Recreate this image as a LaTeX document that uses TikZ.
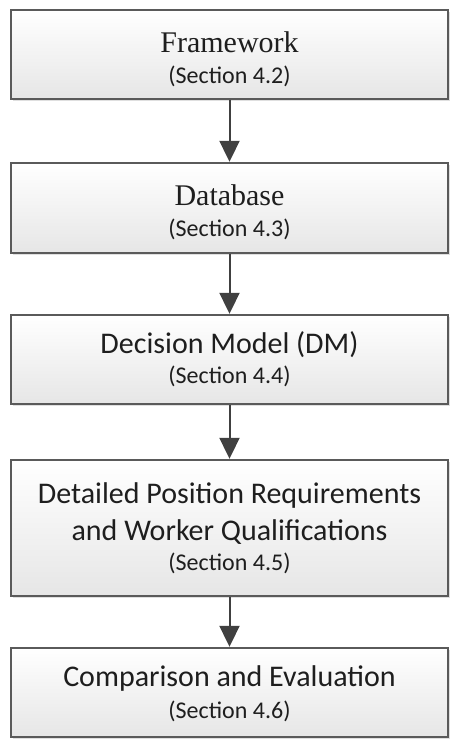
\documentclass[tikz,border=0pt]{standalone}
\usepackage{fontspec}
\setmainfont{Carlito}
\newfontfamily\serifbox{Liberation Serif}
\usetikzlibrary{arrows.meta,shadows}
\definecolor{boxline}{HTML}{5A5A5A}
\definecolor{boxbot}{HTML}{E6E6E6}
\definecolor{arrowcol}{HTML}{404040}
\definecolor{txt}{HTML}{1E1E1E}
\tikzset{
  flowbox/.style={rectangle, draw=boxline, line width=1.4pt, top color=white, bottom color=boxbot,
    minimum width=437pt, inner sep=0pt,
    drop shadow={shadow xshift=2pt, shadow yshift=-2pt, opacity=0.25, fill=gray}},
  maintxt/.style={anchor=base, text=txt, font=\fontsize{30}{36}\selectfont, inner sep=0pt},
  sertxt/.style={anchor=base, text=txt, font=\serifbox\fontsize{30}{36}\selectfont, inner sep=0pt},
  sectxt/.style={anchor=base, text=txt, font=\fontsize{24}{29}\selectfont, inner sep=0pt},
  flowarrow/.style={draw=arrowcol, line width=2pt, -{Triangle[width=20pt,length=21pt]}, shorten >=0.5pt}
}
\begin{document}
\begin{tikzpicture}[x=1pt,y=-1pt]
\useasboundingbox (0,0) rectangle (454,740);
\node[flowbox, minimum height=89pt] (b1) at (229.5,54.5) {};
\node[flowbox, minimum height=90pt] (b2) at (229.5,208) {};
\node[flowbox, minimum height=89pt] (b3) at (229.5,359.5) {};
\node[flowbox, minimum height=136pt] (b4) at (229.5,528) {};
\node[flowbox, minimum height=89pt] (b5) at (229.5,692.5) {};

\node[sertxt] (t1) at (229.5,52) {Framework};
\node[sectxt] (s1) at (229.5,83) {(Section 4.2)};
\node[sertxt] (t2) at (229.5,205) {Database};
\node[sectxt] (s2) at (229.5,236.5) {(Section 4.3)};
\node[maintxt] (t3) at (229.5,353.3) {Decision Model (DM)};
\node[sectxt] (s3) at (229.5,383.3) {(Section 4.4)};
\node[maintxt] (t4a) at (229.5,503) {Detailed Position Requirements};
\node[maintxt] (t4b) at (229.5,540) {and Worker Qualifications};
\node[sectxt] (s4) at (229.5,570) {(Section 4.5)};
\node[maintxt] (t5) at (229.5,686.7) {Comparison and Evaluation};
\node[sectxt] (s5) at (229.5,718) {(Section 4.6)};

\draw[flowarrow] (b1.south) -- (b2.north);
\draw[flowarrow] (b2.south) -- (b3.north);
\draw[flowarrow] (b3.south) -- (b4.north);
\draw[flowarrow] (b4.south) -- (b5.north);
\end{tikzpicture}
\end{document}
